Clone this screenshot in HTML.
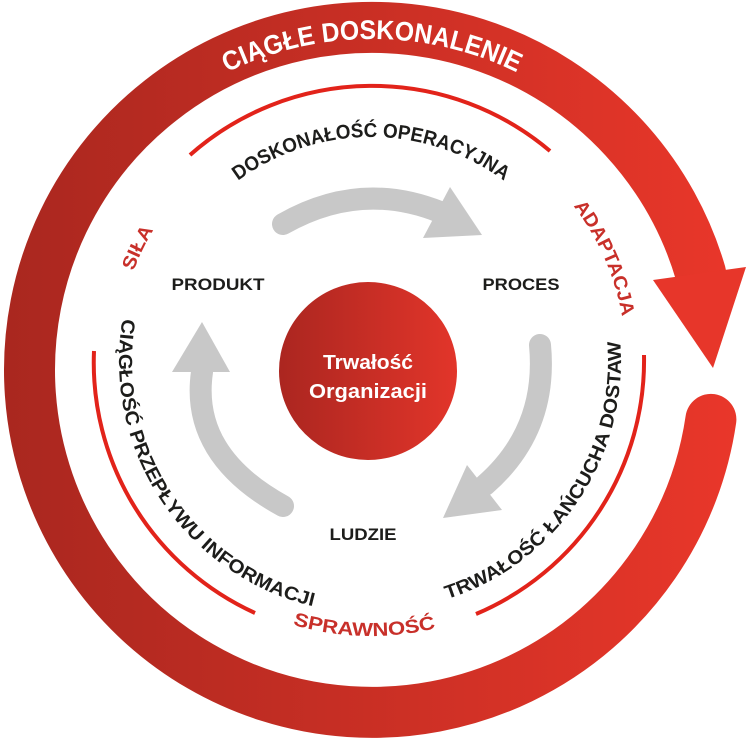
<!DOCTYPE html>
<html><head><meta charset="utf-8"><style>
html,body{margin:0;padding:0;background:#fff;}
svg{display:block;}
text{font-family:"Liberation Sans","DejaVu Sans",sans-serif;font-weight:bold;}
</style></head><body>
<svg width="747" height="739" viewBox="0 0 747 739" xmlns="http://www.w3.org/2000/svg">
<defs>
<linearGradient id="rg" gradientUnits="userSpaceOnUse" x1="0" y1="0" x2="747" y2="0">
<stop offset="0" stop-color="#a9271f"/><stop offset="1" stop-color="#ea372a"/>
</linearGradient>
<linearGradient id="cg" gradientUnits="userSpaceOnUse" x1="279" y1="0" x2="457" y2="0">
<stop offset="0" stop-color="#ab2620"/><stop offset="1" stop-color="#e2352a"/>
</linearGradient>
<path id="ringTxt" d="M372,701 A331,331 0 1 1 372,39 A331,331 0 1 1 372,701"/>
<path id="cw224" d="M371,585 A224,224 0 1 1 371,137 A224,224 0 1 1 371,585"/>
<path id="cw255" d="M371,616 A255,255 0 1 1 371,106 A255,255 0 1 1 371,616"/>
<path id="cw254" d="M371,615 A254,254 0 1 1 371,107 A254,254 0 1 1 371,615"/>
<path id="ccw252" d="M371,109 A252,252 0 1 0 371,613 A252,252 0 1 0 371,109"/>
<path id="ccw250" d="M371,111 A250,250 0 1 0 371,611 A250,250 0 1 0 371,111"/>
<path id="ccw275" d="M371,86 A275,275 0 1 0 371,636 A275,275 0 1 0 371,86"/>
</defs>

<path d="M710.9,419.4 A342.5,342.5 0 1 1 700.6,273.3" fill="none" stroke="url(#rg)" stroke-width="51" stroke-linecap="round"/>
<polygon points="653,280 746,267 713,368" fill="#e7362a"/>
<text font-size="27" fill="#fff"><textPath href="#ringTxt" startOffset="50%" text-anchor="middle" textLength="300" lengthAdjust="spacingAndGlyphs">CIĄGŁE DOSKONALENIE</textPath></text>

<g fill="none" stroke="#e2231a" stroke-width="4">
<path d="M190,155 A275,275 0 0 1 550,151"/>
<path d="M94,351 A275,275 0 0 0 255,613"/>
<path d="M644,355 A275,275 0 0 1 476,614"/>
</g>

<text font-size="20" fill="#1d1d1b"><textPath href="#cw224" startOffset="50%" text-anchor="middle" textLength="285" lengthAdjust="spacingAndGlyphs">DOSKONAŁOŚĆ OPERACYJNA</textPath></text>
<text font-size="19" fill="#1d1d1b"><textPath href="#ccw252" startOffset="34.3%" text-anchor="middle" textLength="380" lengthAdjust="spacingAndGlyphs">CIĄGŁOŚĆ PRZEPŁYWU INFORMACJI</textPath></text>
<text font-size="19" fill="#1d1d1b"><textPath href="#ccw250" startOffset="65.6%" text-anchor="middle" textLength="335" lengthAdjust="spacingAndGlyphs">TRWAŁOŚĆ ŁAŃCUCHA DOSTAW</textPath></text>
<text font-size="19" fill="#c8302a"><textPath href="#ccw275" startOffset="49.6%" text-anchor="middle" textLength="145" lengthAdjust="spacingAndGlyphs">SPRAWNOŚĆ</textPath></text>
<text font-size="19" fill="#c8302a"><textPath href="#cw254" startOffset="32.2%" text-anchor="middle" textLength="46" lengthAdjust="spacingAndGlyphs">SIŁA</textPath></text>
<text font-size="19" fill="#c8302a"><textPath href="#cw255" startOffset="68.4%" text-anchor="middle" textLength="122" lengthAdjust="spacingAndGlyphs">ADAPTACJA</textPath></text>

<g fill="none" stroke="#c8c8c8" stroke-width="22" stroke-linecap="round">
<path d="M283,224 Q360,180 440,212"/>
<path d="M540,345 Q548,430 485,485"/>
<path d="M283,506 Q190,455 202,372"/>
</g>
<g fill="#c8c8c8">
<polygon points="450,187 423,238 482,235"/>
<polygon points="467,465 502,510 443,518"/>
<polygon points="172,372 230,372 202,322"/>
</g>

<circle cx="368" cy="371" r="89" fill="url(#cg)"/>
<text x="368" y="369" font-size="20" fill="#fff" text-anchor="middle" textLength="90" lengthAdjust="spacingAndGlyphs">Trwałość</text>
<text x="368" y="398" font-size="20" fill="#fff" text-anchor="middle" textLength="118" lengthAdjust="spacingAndGlyphs">Organizacji</text>

<text x="218" y="290" font-size="17" fill="#1d1d1b" text-anchor="middle" textLength="93" lengthAdjust="spacingAndGlyphs">PRODUKT</text>
<text x="521" y="290" font-size="17" fill="#1d1d1b" text-anchor="middle" textLength="77" lengthAdjust="spacingAndGlyphs">PROCES</text>
<text x="363" y="540" font-size="17" fill="#1d1d1b" text-anchor="middle" textLength="67" lengthAdjust="spacingAndGlyphs">LUDZIE</text>
</svg>
</body></html>
